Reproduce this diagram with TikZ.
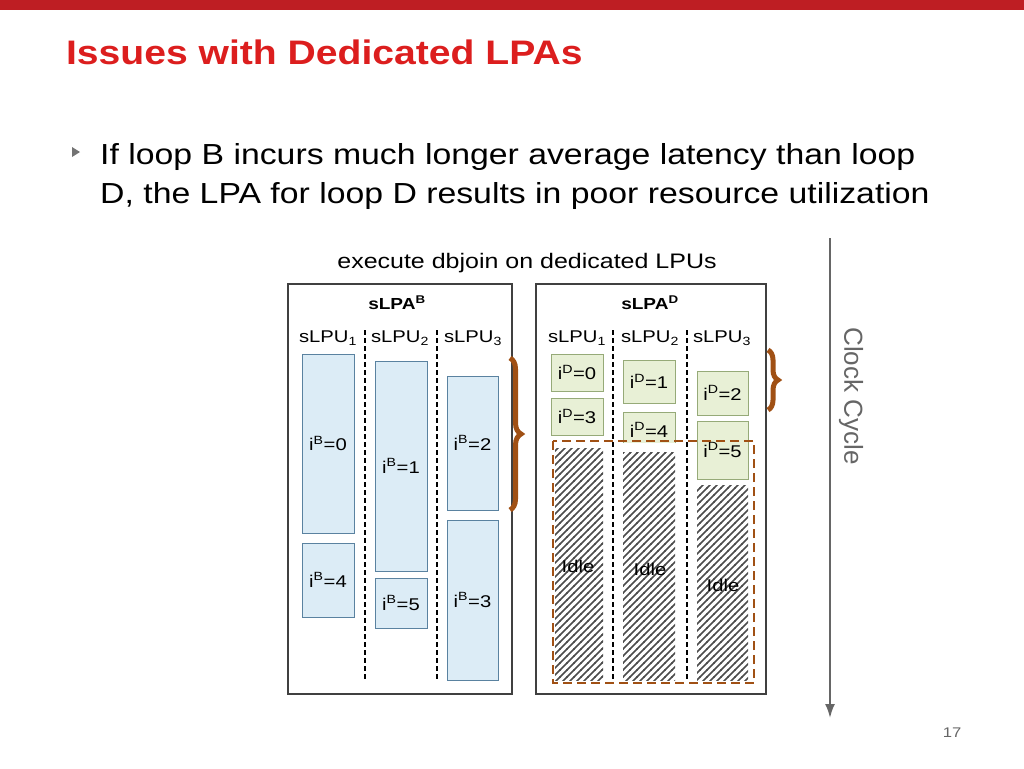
\documentclass[tikz,border=0pt]{standalone}
\usepackage{fontspec}
\setmainfont{Liberation Sans}
\usetikzlibrary{patterns,decorations.pathreplacing,arrows.meta}
\definecolor{titlered}{RGB}{220,30,30}
\definecolor{barred}{RGB}{190,30,35}
\definecolor{lpublue}{RGB}{220,236,246}
\definecolor{lpuedge}{RGB}{90,130,160}
\definecolor{lpugreen}{RGB}{232,240,214}
\definecolor{greenedge}{RGB}{150,170,120}
\definecolor{bracebrown}{RGB}{160,80,20}
\pgfdeclarepatternformonly{idlehatch}{\pgfqpoint{-1pt}{-1pt}}{\pgfqpoint{8pt}{8pt}}{\pgfqpoint{7pt}{7pt}}
  {\pgfsetlinewidth{1.7pt}\pgfpathmoveto{\pgfqpoint{-0.5pt}{-0.5pt}}\pgfpathlineto{\pgfqpoint{7.5pt}{7.5pt}}\pgfusepath{stroke}}
\tikzset{
  wide/.style={xscale=1.19},
  iterb/.style={draw=lpuedge,fill=lpublue,inner sep=0pt},
  iterd/.style={draw=greenedge,fill=lpugreen,inner sep=0pt},
  idlebox/.style={pattern=idlehatch,pattern color=black!70},
  lpuline/.style={line width=2pt,dash pattern=on 5pt off 3pt},
  lpabox/.style={draw=black!75,line width=2.5pt},
  itertext/.style={wide,font=\fontsize{17}{20}\selectfont},
}
\begin{document}
\begin{tikzpicture}[x=1pt,y=-1pt,>=latex]
\useasboundingbox (0,0) rectangle (1024,768);
%header
\fill[barred] (0,0) rectangle (1024,10);
\node[anchor=west,xscale=1.15,text=titlered,font=\bfseries\fontsize{34}{40}\selectfont] (title) at (62,52) {Issues with Dedicated LPAs};
\fill[black!55] (72,147) -- (80,152) -- (72,157) -- cycle;
\node[anchor=north west,xscale=1.165,align=left,font=\fontsize{29}{39}\selectfont,inner sep=0pt] (point) at (100,143)
  {If loop B incurs much longer average latency than loop\\D, the LPA for loop D results in poor resource utilization};
\node[wide,font=\fontsize{21}{24}\selectfont] (caption) at (527,263) {execute dbjoin on dedicated LPUs};
%sLPA boxes
\draw[lpabox] (288,284) rectangle (512,694);
\draw[lpabox] (536,284) rectangle (766,694);
\node[wide,font=\bfseries\fontsize{16}{18}\selectfont] (lpab) at (397,303) {sLPA\textsuperscript{B}};
\node[wide,font=\bfseries\fontsize{16}{18}\selectfont] (lpad) at (650,303) {sLPA\textsuperscript{D}};
%loop B iterations
\foreach \xa/\ya/\xb/\yb/\t in {302/354/354/533/0,302/543/354/617/4,375/361/427/571/1,375/578/427/628/5,447/376/498/510/2,447/520/498/680/3}
  \draw[iterb] (\xa,\ya) rectangle (\xb,\yb) node[midway,itertext] {i\textsuperscript{B}=\t};
%loop D iterations
\foreach \xa/\ya/\xb/\yb/\t in {551/354/603/391/0,551/398/603/435/3,623/360/675/403/1,697/371/748/415/2,697/421/748/479/5}
  \draw[iterd] (\xa,\ya) rectangle (\xb,\yb) node[midway,itertext] {i\textsuperscript{D}=\t};
\draw[iterd] (623,412) rectangle (675,446);
\node[itertext] (d4) at (649,430) {i\textsuperscript{D}=4};
%idle
\fill[white] (553,443) rectangle (676,682);
\fill[idlebox] (555,448) rectangle (603,680);
\fill[idlebox] (623,452) rectangle (675,680);
\fill[idlebox] (697,485) rectangle (748,680);
%lpu separators
\foreach \x in {365,437,613,687}
  \draw[lpuline] (\x,330) -- (\x,680);
\foreach \x/\n in {328/1,400/2,473/3,577/1,650/2,722/3}
  \node[itertext,fill=white,inner sep=1pt] (lpu\x) at (\x,338) {sLPU\textsubscript{\n}};
\foreach \x/\y in {578/566,650/569,723/585}
  \node[itertext] (idle\x) at (\x,\y) {Idle};
\draw[bracebrown,line width=2.5pt,dash pattern=on 9pt off 5pt] (553,441) rectangle (754,683);
%braces
\draw[bracebrown,line width=5pt,decorate,decoration={brace,amplitude=11pt}] (510,358) -- (510,510);
\draw[bracebrown,line width=5pt,decorate,decoration={brace,amplitude=10pt}] (768,350) -- (768,410);
%clock
\draw[-{Latex[length=14pt,width=10pt]},black!60,line width=2pt] (830,238) -- (830,718);
\node[rotate=-90,text=black!60,font=\fontsize{26}{30}\selectfont] (clock) at (851,396) {Clock Cycle};
\node[wide,text=black!60,font=\fontsize{14}{16}\selectfont] (page) at (952,733) {17};
\end{tikzpicture}
\end{document}
